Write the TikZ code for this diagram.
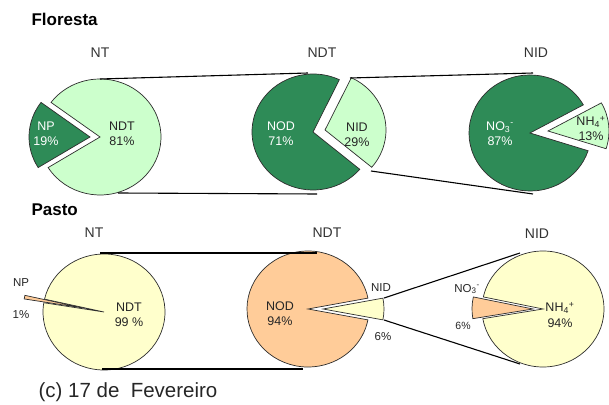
\documentclass[tikz,border=0pt]{standalone}
\usepackage{fontspec}
\setmainfont{Liberation Sans}
\usetikzlibrary{positioning}

\definecolor{mata}{RGB}{46,139,87}
\definecolor{matacl}{RGB}{204,255,204}
\definecolor{pastocl}{RGB}{255,255,204}
\definecolor{pastolr}{RGB}{255,204,153}
\definecolor{borda}{RGB}{45,45,45}

% fatia de pizza: cor, centro, angulo inicial, angulo final
\newcommand{\fatia}[4]{\filldraw[fill=#1,draw=borda,line width=0.7pt] (#2) -- ++(#3:61pt and 58pt) arc[start angle=#3,end angle=#4,x radius=61pt,y radius=58pt] -- cycle;}

\begin{document}
\begin{tikzpicture}[x=1pt,y=1pt,
  titulo/.style={font=\fontsize{17}{20}\selectfont\bfseries,anchor=base west},
  cabeca/.style={font=\fontsize{14}{16}\selectfont,text=black!80},
  rotulo/.style={font=\fontsize{12.5}{15.5}\selectfont,align=center,text=black!85},
  branco/.style={rotulo,text=white},
  miudo/.style={font=\fontsize{11.5}{13}\selectfont,text=black!85},
  ligacao/.style={draw=black,line width=1.1pt}]
\useasboundingbox (0,0) rectangle (609,404);
\clip (0,0) rectangle (609,404);

% Floresta
\coordinate (ntF) at (100,267);
\coordinate (npF) at (90,267);
\coordinate (ndtF) at (313,272);
\coordinate (nidF) at (325,274);
\coordinate (no3F) at (530,271);
\coordinate (nh4F) at (548,273);
\fatia{matacl}{ntF}{211.8}{503.4}
\fatia{mata}{npF}{143.4}{211.8}
\fatia{mata}{ndtF}{64.4}{320}
\fatia{matacl}{nidF}{-40}{64.4}
\fatia{mata}{no3F}{29}{342.2}
\fatia{matacl}{nh4F}{-17.8}{29}

\coordinate (ntF-a) at (100,325);
\coordinate (ndtF-a) at (308,331);
\coordinate (ntF-b) at (118,211);
\coordinate (ndtF-b) at (317,210);
\coordinate (nidF-a) at (350,326);
\coordinate (no3F-a) at (533,331);
\coordinate (nidF-b) at (371,233);
\coordinate (no3F-b) at (533,210);
\draw[ligacao] (ntF-a) -- (ndtF-a);
\draw[ligacao] (ntF-b) -- (ndtF-b);
\draw[ligacao] (nidF-a) -- (no3F-a);
\draw[ligacao] (nidF-b) -- (no3F-b);

\node[titulo] (flor) at (28,378) {Floresta};
\node[cabeca] (ntFt) at (100,351) {NT};
\node[cabeca] (ndtFt) at (322,351) {NDT};
\node[cabeca] (nidFt) at (536,351) {NID};
\node[branco] (npFl) at (46,270) {NP\\19\%};
\node[rotulo] (ndtFl) at (122,270) {NDT\\81\%};
\node[branco] (nodFl) at (281,270.5) {NOD\\71\%};
\node[rotulo] (nidFl) at (357,269) {NID\\29\%};
\node[branco] (no3Fl) at (500,270.5) {NO\textsubscript{3}\textsuperscript{-}\\87\%};
\node[rotulo] (nh4Fl) at (591,275.5) {NH\textsubscript{4}\textsuperscript{+}\\13\%};

% Pasto
\coordinate (ntP) at (104,92);
\coordinate (npP) at (84.4,95.8);
\coordinate (ndtP) at (308,95);
\coordinate (nidP) at (323,95);
\coordinate (nh4P) at (543,95);
\coordinate (no3P) at (533,95);
\fatia{pastocl}{ntP}{170.8}{527.2}
\fatia{pastolr}{npP}{167.2}{170.8}
\fatia{pastolr}{ndtP}{10.8}{349.2}
\fatia{pastocl}{nidP}{-10.8}{10.8}
\fatia{pastocl}{nh4P}{189.6}{528}
\fatia{pastolr}{no3P}{168}{189.6}

\coordinate (ntP-a) at (100,151);
\coordinate (ndtP-a) at (317,151);
\coordinate (ntP-b) at (102,35);
\coordinate (ndtP-b) at (303,35);
\coordinate (nidP-a) at (384,106);
\coordinate (nh4P-a) at (520,151);
\coordinate (nidP-b) at (384,84);
\coordinate (nh4P-b) at (520,40);
\draw[ligacao] (ntP-a) -- (ndtP-a);
\draw[ligacao] (ntP-b) -- (ndtP-b);
\draw[ligacao] (nidP-a) -- (nh4P-a);
\draw[ligacao] (nidP-b) -- (nh4P-b);

\node[titulo] (past) at (28,188) {Pasto};
\node[cabeca] (ntPt) at (94,171) {NT};
\node[cabeca] (ndtPt) at (327,171) {NDT};
\node[cabeca] (nidPt) at (537,170) {NID};
\node[miudo] (npPl) at (21,121) {NP};
\node[miudo] (npPv) at (21,89) {1\%};
\node[rotulo] (ndtPl) at (129,89) {NDT\\99 \%};
\node[rotulo] (nodPl) at (280,90.5) {NOD\\94\%};
\node[miudo] (nidPl) at (381,116) {NID};
\node[miudo] (nidPv) at (383,67) {6\%};
\node[miudo] (no3Pl) at (467,115) {NO\textsubscript{3}\textsuperscript{-}};
\node[font=\fontsize{10.5}{12}\selectfont,text=black!85] (no3Pv) at (463,78) {6\%};
\node[rotulo] (nh4Pl) at (560,89) {NH\textsubscript{4}\textsuperscript{+}\\94\%};

\node[anchor=base west,font=\fontsize{20.5}{24}\selectfont,text=black!85] (data) at (35,7) {(c) 17 de~~Fevereiro};
\end{tikzpicture}
\end{document}
